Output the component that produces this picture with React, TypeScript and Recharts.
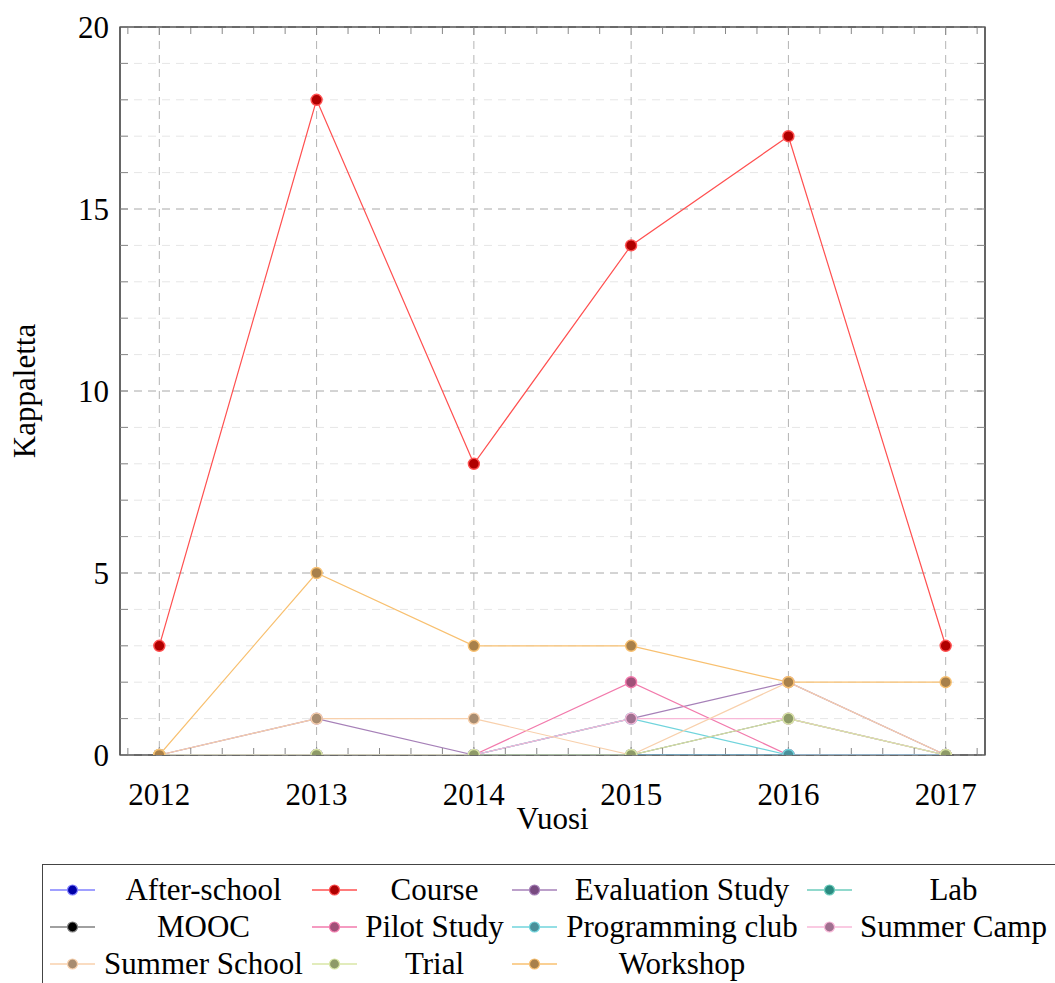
import React from "react";
import { LineChart, Line, XAxis, YAxis, CartesianGrid, Label, ReferenceArea } from "recharts";

const years = [2012, 2013, 2014, 2015, 2016, 2017];
const yTicks = [0, 5, 10, 15, 20];

const afterSchool = [0, 0, 0, 0, 0, 0];
const course = [3, 18, 8, 14, 17, 3];
const evaluationStudy = [0, 1, 0, 1, 2, 0];
const lab = [0, 0, 0, 0, 0, 0];
const mooc = [0, 0, 0, 0, 1, 0];
const pilotStudy = [0, 0, 0, 2, 0, 0];
const programmingClub = [0, 0, 0, 1, 0, 0];
const summerCamp = [0, 0, 0, 1, 1, 0];
const summerSchool = [0, 1, 1, 0, 2, 0];
const trial = [0, 0, 0, 0, 1, 0];
const workshop = [0, 5, 3, 3, 2, 2];

const series = [
  { key: "afterSchool", name: "After-school", values: afterSchool, line: "#8080ff", dot: "#0000a8" },
  { key: "course", name: "Course", values: course, line: "#ff5050", dot: "#b00000" },
  { key: "evaluationStudy", name: "Evaluation Study", values: evaluationStudy, line: "#a680b8", dot: "#784a80" },
  { key: "lab", name: "Lab", values: lab, line: "#6cccbc", dot: "#2a8a80" },
  { key: "mooc", name: "MOOC", values: mooc, line: "#808080", dot: "#000000" },
  { key: "pilotStudy", name: "Pilot Study", values: pilotStudy, line: "#f27aac", dot: "#a05078" },
  { key: "programmingClub", name: "Programming club", values: programmingClub, line: "#70d4dc", dot: "#4a909a" },
  { key: "summerCamp", name: "Summer Camp", values: summerCamp, line: "#f8b8d8", dot: "#a07090" },
  { key: "summerSchool", name: "Summer School", values: summerSchool, line: "#f8d0ac", dot: "#a88c70" },
  { key: "trial", name: "Trial", values: trial, line: "#d8e6a6", dot: "#8e9a68" },
  { key: "workshop", name: "Workshop", values: workshop, line: "#f8c070", dot: "#a8804a" },
];

const data = years.map((year, i) => {
  const row: Record<string, number> = { year };
  series.forEach((s) => (row[s.key] = s.values[i]));
  return row;
});

const xMinor = [2011.8, ...years.flatMap((y) => [0.2, 0.4, 0.6, 0.8].map((f) => y + f))].filter((v) => v < 2017.25);
const yMinor = Array.from({ length: 21 }, (_, i) => i);

const FONT = "'Liberation Serif', 'DejaVu Serif', serif";
const xDomain = [2011.75, 2017.25];
const yDomain = [0, 20];
const noLabel = () => <g />;

// legend columns (symbol start, text start, text end), page coordinates
const legendCols = [
  [50, 95, 312],
  [312, 357, 512],
  [512, 557, 807],
  [807, 852, 1055],
];
const LEGEND_LEFT = 42;
const LEGEND_TOP = 864;

function ChartLegend() {
  return (
    <div
      style={{
        position: "absolute",
        left: LEGEND_LEFT,
        top: LEGEND_TOP,
        width: 1030,
        height: 140,
        border: "1px solid #444",
        background: "#fff",
        fontFamily: FONT,
        fontSize: 31,
      }}
    >
      {series.map((s, i) => {
        const row = Math.floor(i / 4);
        const [symX, textX, textEnd] = legendCols[i % 4];
        const cy = 25 + row * 37;
        return (
          <React.Fragment key={s.key}>
            <svg
              style={{ position: "absolute", left: symX - LEGEND_LEFT - 1, top: cy - 8 }}
              width={45}
              height={16}
            >
              <line x1={0} y1={8} x2={45} y2={8} stroke={s.line} strokeWidth={1.3} />
              <circle cx={22.5} cy={8} r={5} fill={s.dot} stroke={s.line} strokeWidth={1.2} />
            </svg>
            <div
              style={{
                position: "absolute",
                left: textX - LEGEND_LEFT - 1,
                width: textEnd - textX,
                top: cy - 19,
                height: 38,
                lineHeight: "38px",
                textAlign: "center",
                whiteSpace: "nowrap",
                color: "#000",
              }}
            >
              {s.name}
            </div>
          </React.Fragment>
        );
      })}
    </div>
  );
}

export default function App() {
  return (
    <div style={{ position: "absolute", left: 0, top: 0, width: 1055, height: 983, overflow: "hidden", background: "#fff" }}>
      <LineChart
        width={1055}
        height={860}
        data={data}
        margin={{ top: 27, right: 70, left: 0, bottom: 0 }}
        style={{ fontFamily: FONT }}
      >
        <CartesianGrid
          horizontalValues={yMinor}
          vertical={false}
          stroke="#e6e6e6"
          strokeDasharray="8 6"
        />
        <CartesianGrid
          horizontalValues={yTicks}
          verticalValues={years}
          stroke="#b4b4b4"
          strokeDasharray="8 6"
        />
        <XAxis
          dataKey="year"
          type="number"
          domain={xDomain}
          ticks={years}
          allowDataOverflow
          height={105}
          tickLine={false}
          axisLine={false}
          tickSize={0}
          tickMargin={28}
          tick={{ fill: "#000", fontSize: 31, fontFamily: FONT }}
        >
          <Label value="Vuosi" position="insideTop" offset={52} fill="#000" fontSize={31} fontFamily={FONT} />
        </XAxis>
        <YAxis
          type="number"
          domain={yDomain}
          ticks={yTicks}
          allowDataOverflow
          width={120}
          tickLine={false}
          axisLine={false}
          tickSize={0}
          tickMargin={11}
          tick={{ fill: "#000", fontSize: 31, fontFamily: FONT }}
        >
          <Label
            content={() => (
              <text
                transform="translate(24,391) rotate(-90)"
                textAnchor="middle"
                dominantBaseline="central"
                fontSize={31}
                fontFamily={FONT}
                fill="#000"
              >
                Kappaletta
              </text>
            )}
          />
        </YAxis>

        {/* inward tick marks, pgfplots style */}
        <XAxis xAxisId="bMinor" type="number" dataKey="year" domain={xDomain} ticks={xMinor} allowDataOverflow mirror height={1} orientation="bottom" tickSize={6} tick={noLabel} tickLine={{ stroke: "#888" }} axisLine={false} interval={0} />
        <XAxis xAxisId="bMajor" type="number" dataKey="year" domain={xDomain} ticks={years} allowDataOverflow mirror height={1} orientation="bottom" tickSize={8} tick={noLabel} tickLine={{ stroke: "#888" }} axisLine={false} interval={0} />
        <XAxis xAxisId="tMinor" type="number" dataKey="year" domain={xDomain} ticks={xMinor} allowDataOverflow mirror height={1} orientation="top" tickSize={6} tick={noLabel} tickLine={{ stroke: "#888" }} axisLine={false} interval={0} />
        <XAxis xAxisId="tMajor" type="number" dataKey="year" domain={xDomain} ticks={years} allowDataOverflow mirror height={1} orientation="top" tickSize={8} tick={noLabel} tickLine={{ stroke: "#888" }} axisLine={false} interval={0} />
        <YAxis yAxisId="lTicks" type="number" domain={yDomain} ticks={yMinor} allowDataOverflow mirror width={1} orientation="left" tickSize={8} tick={noLabel} tickLine={{ stroke: "#888" }} axisLine={false} interval={0} />
        <YAxis yAxisId="rTicks" type="number" domain={yDomain} ticks={yMinor} allowDataOverflow mirror width={1} orientation="right" tickSize={8} tick={noLabel} tickLine={{ stroke: "#888" }} axisLine={false} interval={0} />

        <ReferenceArea
          x1={xDomain[0]}
          x2={xDomain[1]}
          y1={yDomain[0]}
          y2={yDomain[1]}
          fill="none"
          fillOpacity={0}
          stroke="#000"
          strokeWidth={1.2}
          ifOverflow="visible"
        />

        {series.map((s) => (
          <Line
            key={s.key}
            dataKey={s.key}
            name={s.name}
            type="linear"
            stroke={s.line}
            strokeWidth={1.2}
            dot={{ r: 5.5, fill: s.dot, stroke: s.line, strokeWidth: 1.4 }}
            activeDot={false}
            isAnimationActive={false}
          />
        ))}
      </LineChart>
      <ChartLegend />
    </div>
  );
}
